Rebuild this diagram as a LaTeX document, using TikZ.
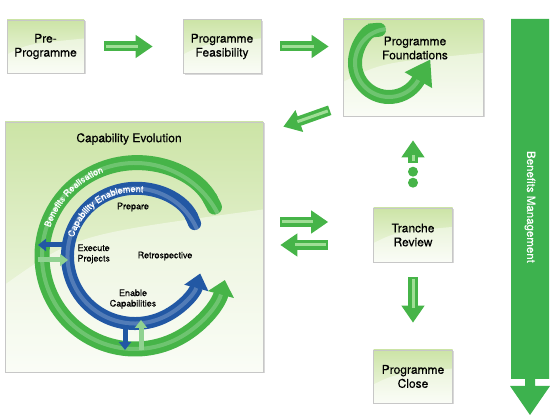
\documentclass[tikz,border=0pt]{standalone}
\usepackage{fontspec}
\setmainfont{TeX Gyre Heros}[FakeBold=0.35]
\newfontfamily\arcfont{TeX Gyre Heros}[FakeBold=1.2]
\usetikzlibrary{positioning,calc,arrows.meta,shadows,decorations.text}
\definecolor{flowgreen}{RGB}{70,180,72}
\definecolor{flowlight}{RGB}{160,222,150}
\definecolor{bargreen}{RGB}{61,178,78}
\definecolor{cycblue}{RGB}{34,88,164}
\definecolor{boxtop}{RGB}{204,228,166}
\definecolor{boxbottom}{RGB}{247,251,240}
\tikzstyle{stage} = [draw=black!22, line width=0.6pt, rectangle, top color=boxtop, bottom color=boxbottom, drop shadow={shadow xshift=1.5pt, shadow yshift=-1.5pt, opacity=.3}, align=center, font=\fontsize{12}{14}\selectfont, sheen]
\tikzstyle{dot} = [circle, fill=flowgreen, inner sep=0pt, minimum size=10pt]
\tikzstyle{cyctext} = [align=center, font=\fontsize{9}{10.5}\selectfont]
\tikzset{sheen/.style={
    path picture={
        \fill[white, opacity=.45]
            (path picture bounding box.south west)
            -- ($(path picture bounding box.south west)!.35!(path picture bounding box.north west)$)
            .. controls ($(path picture bounding box.south west)!.55!(path picture bounding box.north)$) ..
            ($(path picture bounding box.south east)!.65!(path picture bounding box.north east)$)
            -- (path picture bounding box.south east) -- cycle;
        }
    }
}
\tikzset{flow/.style={line width=10pt, draw=flowgreen, -{Triangle[width=22pt,length=17pt]},
    postaction={draw=flowlight, line width=3pt, -, shorten >=15pt, shorten <=2pt}}}
\tikzset{band/.style n args={4}{line width=#1, draw=#2, {Round Cap}-{Triangle[width=#3,length=#4]},
    postaction={draw=white, draw opacity=.22, line width=4pt, -, shorten >=#4}}}
\tikzset{tick/.style={line width=5pt, -{Triangle[width=12pt,length=8pt]}}}
\begin{document}
\begin{tikzpicture}[x=1pt, y=1pt, node distance=176.5pt]
        \useasboundingbox (0,0) rectangle (550,415);
        \node [stage, minimum width=77pt, minimum height=53pt] (pre) at (45.5,368.5) {Pre-\\Programme};
        \node [stage, minimum width=78pt, minimum height=54pt, right of=pre] (feas) {Programme\\Feasibility};
        \node [stage, minimum width=140pt, minimum height=97pt, right of=feas, node distance=191pt, yshift=-21pt] (found) {};
        \node [stage, minimum width=79pt, minimum height=54pt, below of=found, node distance=167.5pt] (tranche) {Tranche\\Review};
        \node [stage, minimum width=79pt, minimum height=53pt, below of=tranche, node distance=141.5pt] (close) {Programme\\Close};
        \node [stage, minimum width=258pt, minimum height=250pt, left of=tranche, node distance=279pt, yshift=-12pt] (capev) {};

        \coordinate (loop) at ([shift={(-24pt,4.5pt)}]found.center);
        \draw [band={14pt}{flowgreen}{30pt}{24pt}] (loop) ++(95:34) arc[start angle=95, end angle=328, radius=34pt] -- ++(60:25);
        \node [font=\fontsize{12}{14}\selectfont, align=center] (foundtxt) at (415,367) {Programme\\Foundations};

        \draw [flow] ([xshift=20pt]pre.east) -- ([xshift=-30pt]feas.west);
        \draw [flow] ([xshift=19pt]feas.east) -- ([xshift=-14pt]feas.east -| found.west);
        \draw [flow] ([shift={(-13pt,6pt)}]found.south west) -- ([shift={(20pt,-5pt)}]capev.north east);
        \draw [flow] ([shift={(17pt,25pt)}]capev.east) -- ([shift={(-45pt,13pt)}]tranche.west);
        \draw [flow] ([shift={(-45pt,-10pt)}]tranche.west) -- ([shift={(17pt,2pt)}]capev.east);
        \draw [flow] ([yshift=45pt]tranche.north) -- ([yshift=-24pt]found.south);
        \node [dot] (dot1) at ([yshift=36pt]tranche.north) {};
        \node [dot] (dot2) at ([yshift=25pt]tranche.north) {};
        \draw [flow] ([yshift=-15pt]tranche.south) -- ([yshift=27pt]close.north);

        \fill [bargreen] (511,396) -- (549,396) -- (549,36) -- (535,36) -- (535,29) -- (550,29) -- (530,0)
            -- (510,29) -- (525,29) -- (525,36) -- (511,36) -- cycle;
        \node [text=white, rotate=-90, font=\fontsize{11.5}{13}\selectfont] (bentxt) at (530,208) {Benefits Management};

        \node [font=\fontsize{12}{14}\selectfont] (capevtxt) at (129,276) {Capability Evolution};
        \coordinate (cyc) at (135,159);
        \draw [band={15pt}{flowgreen}{26pt}{15pt}] (cyc) ++(27:93) arc[start angle=27, end angle=345, radius=93pt];
        \draw [band={13pt}{cycblue}{24pt}{15pt}] (cyc) ++(23:67.5) arc[start angle=23, end angle=345, radius=67.5pt];
        \path [decorate, decoration={text along path, text align=center,
            text={|\arcfont\fontsize{9}{9}\selectfont\color{white}|Benefits Realisation}}]
            (cyc) ++(167:89.5) arc[start angle=167, end angle=105, radius=89.5pt];
        \path [decorate, decoration={text along path, text align=center,
            text={|\arcfont\fontsize{9}{9}\selectfont\color{white}|Capability Enablement}}]
            (cyc) ++(166:64) arc[start angle=166, end angle=80, radius=64pt];
        \draw [tick, cycblue] ($(cyc)+(-72,11)$) -- ($(cyc)+(-97,11)$);
        \draw [tick, flowgreen!60!white] ($(cyc)+(-97,-4)$) -- ($(cyc)+(-67,-4)$);
        \draw [tick, cycblue] ($(cyc)+(-10,-69)$) -- ($(cyc)+(-10,-94)$);
        \draw [tick, flowgreen!60!white] ($(cyc)+(6,-94)$) -- ($(cyc)+(6,-64)$);

        \node [cyctext] (prep) at (133,208) {Prepare};
        \node [cyctext, align=left, anchor=west] (exec) at (74,161) {Execute\\Projects};
        \node [cyctext] (retro) at (165,159) {Retrospective};
        \node [cyctext] (enable) at (133,116) {Enable\\Capabilities};
    \end{tikzpicture}
\end{document}
